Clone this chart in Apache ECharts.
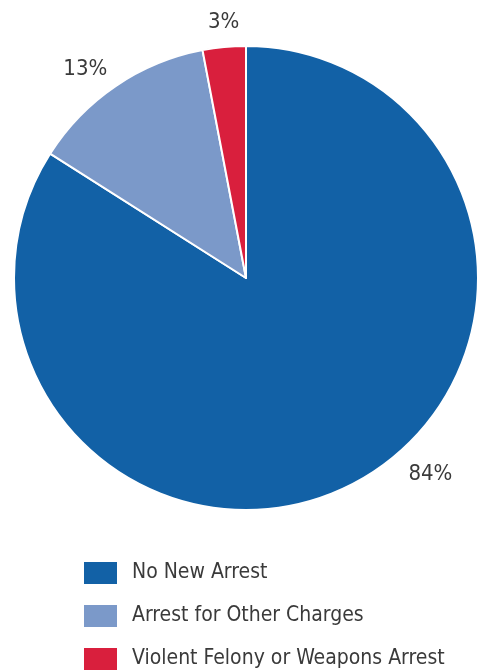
<!DOCTYPE html>
<html>
<head>
<meta charset="utf-8">
<script src="https://cdn.jsdelivr.net/npm/echarts@6/dist/echarts.min.js"></script>
<style>
  html, body { margin: 0; padding: 0; background: #fff; }
  #chart { width: 480px; height: 672px; }
</style>
</head>
<body>
<div id="chart"></div>
<script>
// categories and shares (percent)
const categories = ['No New Arrest', 'Arrest for Other Charges', 'Violent Felony or Weapons Arrest'];
const shares = [84, 13, 3];
const colors = ['#1261a6', '#7b99c9', '#d91f3d'];

const font = '"Liberation Sans Narrow", "DejaVu Sans Condensed", "Liberation Sans", sans-serif';

// nudge the outside labels to where the original puts them
const labelNudge = [[36, -25], [8, 0], [22, -5]];

const chart = echarts.init(document.getElementById('chart'));

const option = {
    animation: false,
    color: colors,
    legend: {
        orient: 'vertical',
        left: 82,
        top: 560,
        padding: 0,
        height: 200,
        itemWidth: 35,
        itemHeight: 24,
        itemGap: 17,
        icon: 'rect',
        selectedMode: false,
        textStyle: {
            fontFamily: font,
            fontSize: 21,
            lineHeight: 22,
            color: '#3a3a3a',
            padding: [0, 0, 0, 9]
        },
        data: categories
    },
    series: [{
        type: 'pie',
        center: [246, 278],
        radius: 232,
        startAngle: 90,
        clockwise: true,
        itemStyle: {
            borderColor: '#fff',
            borderWidth: 2
        },
        label: {
            show: true,
            position: 'outside',
            formatter: '{c}%',
            fontFamily: font,
            fontSize: 22,
            color: '#3a3a3a'
        },
        labelLine: {
            show: false,
            length: 20,
            length2: 0
        },
        labelLayout: function (p) {
            const n = labelNudge[p.dataIndex];
            return { dx: n[0], dy: n[1] };
        },
        emphasis: { disabled: true },
        data: categories.map((name, i) => ({ name: name, value: shares[i] }))
    }]
};

chart.setOption(option);
</script>
</body>
</html>
